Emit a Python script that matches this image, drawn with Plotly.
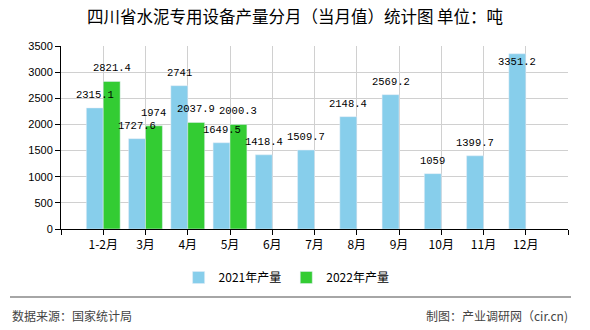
import plotly.graph_objects as go

categories = ["1-2月", "3月", "4月", "5月", "6月", "7月", "8月", "9月", "10月", "11月", "12月"]
values_2021 = [2315.1, 1727.6, 2741, 1649.5, 1418.4, 1509.7, 2148.4, 2569.2, 1059, 1399.7, 3351.2]
values_2022 = [2821.4, 1974, 2037.9, 2000.3]
series_names = ["2021年产量", "2022年产量"]
title_text = "四川省水泥专用设备产量分月（当月值）统计图 单位：吨"
source_text = "数据来源：国家统计局"
credit_text = "制图：产业调研网（cir.cn)"

C2021 = "#87CEEB"
C2022 = "#33CC33"
YMAX = 3500
PLOT_H = 183  # px height of plot area

xpos = list(range(1, len(categories) + 1))

fig = go.Figure()
fig.add_trace(go.Bar(x=xpos, y=values_2021, name=series_names[0], marker_color=C2021))
fig.add_trace(go.Bar(x=xpos[:len(values_2022)], y=values_2022, name=series_names[1], marker_color=C2022))

label_font = dict(family="Liberation Mono", size=10.5, color="#000")
units_per_px = YMAX / PLOT_H
annotations = []
for vals, off in ((values_2021, -0.2), (values_2022, 0.2)):
    for i, v in enumerate(vals):
        ly = min(v + 13 * units_per_px, YMAX - 16 * units_per_px)
        annotations.append(dict(x=xpos[i] + off, y=ly, xref="x", yref="y", text=f"{v:g}",
                                showarrow=False, font=label_font, yanchor="middle"))

annotations.append(dict(x=-0.1006, y=-0.475, xref="paper", yref="paper", text=source_text,
                        showarrow=False, xanchor="left", yanchor="middle",
                        font=dict(family="Noto Sans CJK SC", size=12, color="#444")))
annotations.append(dict(x=1.004, y=-0.475, xref="paper", yref="paper", text=credit_text,
                        showarrow=False, xanchor="right", yanchor="middle",
                        font=dict(family="Noto Sans CJK SC", size=12, color="#444")))

fig.update_layout(
    width=590, height=330,
    margin=dict(l=61, r=22, t=46, b=101),
    paper_bgcolor="white", plot_bgcolor="white",
    barmode="group", bargap=0.2, bargroupgap=0,
    title=dict(text=title_text, x=0.5, xref="container", xanchor="center",
               y=1 - 17 / 330, yanchor="middle",
               font=dict(family="Noto Sans CJK SC", size=16.5, color="#000")),
    legend=dict(orientation="h", x=0.445, xanchor="center", y=-0.265, yanchor="middle",
                font=dict(family="Noto Sans CJK SC", size=12, color="#000"),
                itemclick=False),
    annotations=annotations,
    shapes=[dict(type="line", xref="paper", yref="paper", x0=-0.1006, x1=1.006,
                 y0=-0.3716, y1=-0.3716, line=dict(color="#888", width=1.5))],
    font=dict(family="Liberation Sans", size=11, color="#000"),
)
fig.update_xaxes(range=[0, len(categories) + 1],
                 tickmode="array", tickvals=list(range(0, len(categories) + 2)),
                 ticktext=[""] + categories + [""],
                 showgrid=True, gridcolor="#d0d0d0", gridwidth=1,
                 showline=True, linecolor="#000", linewidth=1,
                 ticks="outside", ticklen=5, tickcolor="#000",
                 tickfont=dict(family="Noto Sans CJK SC", size=12, color="#000"),
                 zeroline=False, fixedrange=True)
fig.update_yaxes(range=[0, YMAX], dtick=500, tick0=0,
                 showgrid=True, gridcolor="#d0d0d0", gridwidth=1,
                 showline=True, linecolor="#000", linewidth=1,
                 ticks="outside", ticklen=5, tickcolor="#000",
                 tickfont=dict(family="Liberation Sans", size=11, color="#000"),
                 zeroline=False, fixedrange=True)

fig.write_html("out.html", config={"displayModeBar": False})
